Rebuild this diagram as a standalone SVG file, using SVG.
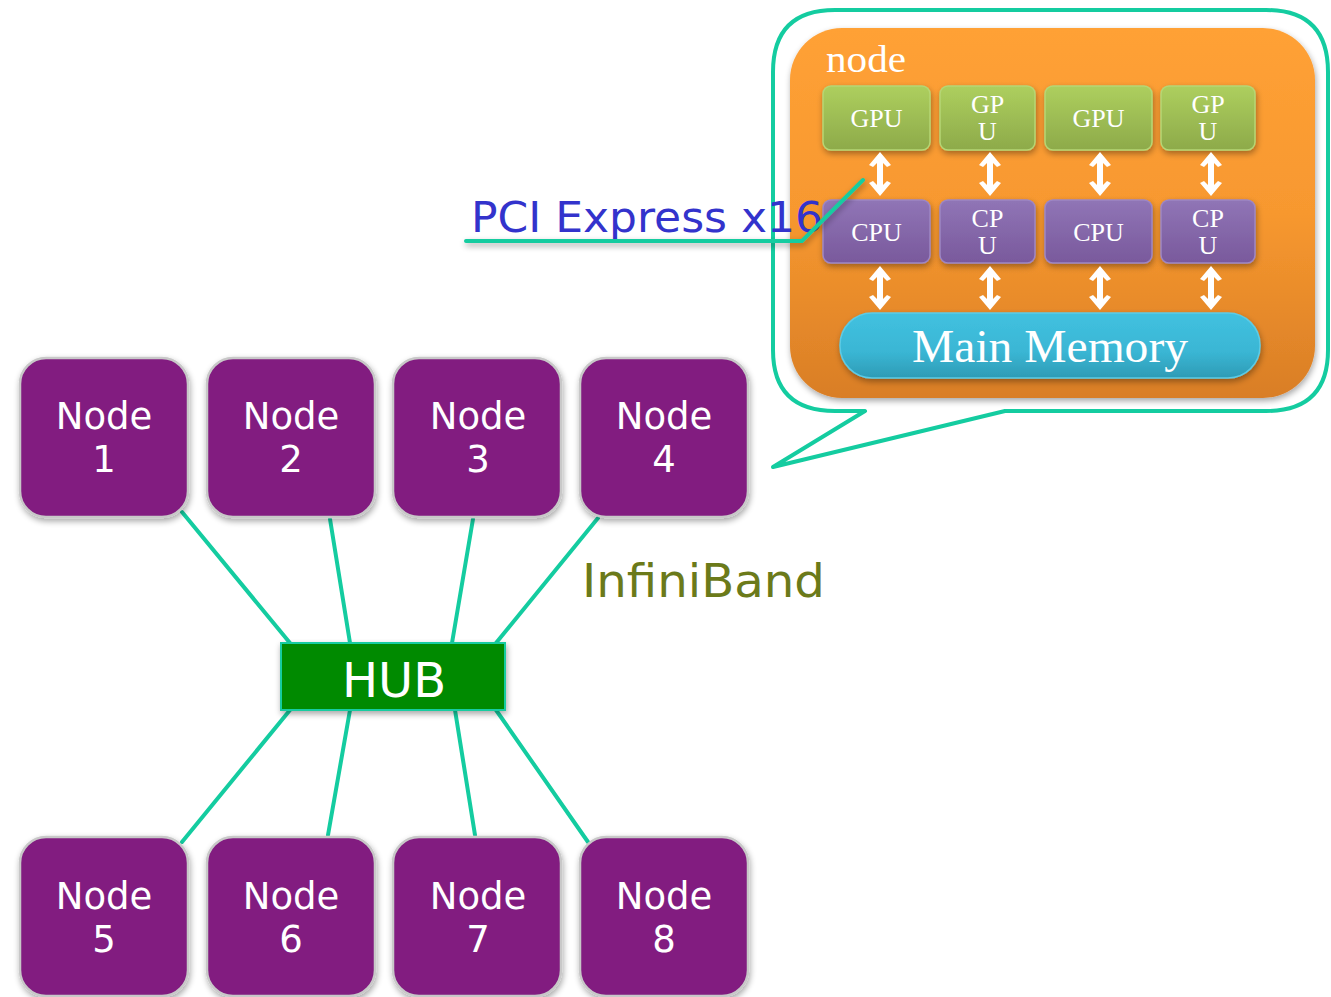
<svg xmlns="http://www.w3.org/2000/svg" width="1331" height="997" viewBox="0 0 1331 997">
  <defs>
    <style>
      .conn { stroke: #14CCA0; stroke-width: 4; fill: none; stroke-linecap: round; }
      .nodebox { fill: #821C80; stroke: #C8C8C8; stroke-width: 2.5; }
      .nodetxt { font-family: "DejaVu Sans", sans-serif; font-size: 37px; fill: #FFFFFF; text-anchor: middle; }
      .chip { font-family: "Liberation Serif", "DejaVu Serif", serif; font-size: 26px; fill: #FFFFFF; text-anchor: middle; }
      .gpu { fill: url(#gpuGrad); stroke: #B5D675; stroke-width: 1.5; }
      .cpu { fill: url(#cpuGrad); stroke: #9D86C4; stroke-width: 1.5; }
    </style>
    <linearGradient id="orangeGrad" x1="0" y1="0" x2="0" y2="1">
      <stop offset="0" stop-color="#FFA136"/>
      <stop offset="0.5" stop-color="#F7982F"/>
      <stop offset="1" stop-color="#D97E26"/>
    </linearGradient>
    <linearGradient id="gpuGrad" x1="0" y1="0" x2="0" y2="1">
      <stop offset="0" stop-color="#ADCF5E"/>
      <stop offset="1" stop-color="#8DAA4A"/>
    </linearGradient>
    <linearGradient id="cpuGrad" x1="0" y1="0" x2="0" y2="1">
      <stop offset="0" stop-color="#9075B6"/>
      <stop offset="1" stop-color="#79599C"/>
    </linearGradient>
    <linearGradient id="memGrad" x1="0" y1="0" x2="0" y2="1">
      <stop offset="0" stop-color="#41C1E0"/>
      <stop offset="0.6" stop-color="#3AB6D4"/>
      <stop offset="1" stop-color="#2E9BB5"/>
    </linearGradient>
    <linearGradient id="purpleGrad" x1="0" y1="0" x2="0" y2="1">
      <stop offset="0" stop-color="#A83AA8"/>
      <stop offset="0.06" stop-color="#821C80"/>
      <stop offset="1" stop-color="#821C80"/>
    </linearGradient>
    <filter id="shadow" x="-10%" y="-10%" width="125%" height="130%">
      <feGaussianBlur in="SourceAlpha" stdDeviation="3"/>
      <feOffset dx="1" dy="3" result="b"/>
      <feComponentTransfer><feFuncA type="linear" slope="0.35"/></feComponentTransfer>
      <feMerge><feMergeNode/><feMergeNode in="SourceGraphic"/></feMerge>
    </filter>
    <!-- white double-headed arrow, centred on the origin -->
    <path id="dblArrow" d="M0,-22 L11,-9 L7,-7 L3,-11 L3,11 L7,7 L11,9 L0,22 L-11,9 L-7,7 L-3,11 L-3,-11 L-7,-7 L-11,-9 Z" fill="#FFFFFF"/>
  </defs>

  <rect width="1331" height="997" fill="#FFFFFF"/>

  <!-- callout bubble with node internals -->
  <g id="callout">
    <path class="conn" stroke-linejoin="round" d="M835,10 L1266,10 Q1328,10 1328,72 L1328,350 Q1328,411 1266,411 L1005,411 L773,467 L865,411 L835,411 Q773,411 773,350 L773,72 Q773,10 835,10 Z"/>
    <rect x="790" y="28" width="525" height="370" rx="52" fill="url(#orangeGrad)" filter="url(#shadow)"/>
    <text x="826" y="72" font-family="Liberation Serif, DejaVu Serif, serif" font-size="37" fill="#FFFFFF" textLength="80" lengthAdjust="spacingAndGlyphs">node</text>
  </g>

  <g id="gpu1"><rect class="gpu" x="823" y="86" width="107" height="64" rx="8" filter="url(#shadow)"/><text class="chip" x="876.5" y="127">GPU</text></g>
  <g id="gpu2"><rect class="gpu" x="940" y="86" width="95" height="64" rx="8" filter="url(#shadow)"/><text class="chip" x="987.5" y="113">GP</text><text class="chip" x="987.5" y="140">U</text></g>
  <g id="gpu3"><rect class="gpu" x="1045" y="86" width="107" height="64" rx="8" filter="url(#shadow)"/><text class="chip" x="1098.5" y="127">GPU</text></g>
  <g id="gpu4"><rect class="gpu" x="1161" y="86" width="94" height="64" rx="8" filter="url(#shadow)"/><text class="chip" x="1208" y="113">GP</text><text class="chip" x="1208" y="140">U</text></g>

  <g id="cpu1"><rect class="cpu" x="823" y="200" width="107" height="63" rx="8" filter="url(#shadow)"/><text class="chip" x="876.5" y="241">CPU</text></g>
  <g id="cpu2"><rect class="cpu" x="940" y="200" width="95" height="63" rx="8" filter="url(#shadow)"/><text class="chip" x="987.5" y="227">CP</text><text class="chip" x="987.5" y="254">U</text></g>
  <g id="cpu3"><rect class="cpu" x="1045" y="200" width="107" height="63" rx="8" filter="url(#shadow)"/><text class="chip" x="1098.5" y="241">CPU</text></g>
  <g id="cpu4"><rect class="cpu" x="1161" y="200" width="94" height="63" rx="8" filter="url(#shadow)"/><text class="chip" x="1208" y="227">CP</text><text class="chip" x="1208" y="254">U</text></g>

  <g id="memory">
    <rect x="840" y="313" width="420" height="65" rx="32" fill="url(#memGrad)" stroke="#5CCBE6" stroke-width="1.5" filter="url(#shadow)"/>
    <text x="1050" y="362" font-family="Liberation Serif, DejaVu Serif, serif" font-size="46" fill="#FFFFFF" text-anchor="middle" textLength="276" lengthAdjust="spacingAndGlyphs">Main Memory</text>
  </g>

  <g id="bus-arrows">
    <use href="#dblArrow" x="880" y="174"/>
    <use href="#dblArrow" x="990" y="174"/>
    <use href="#dblArrow" x="1100" y="174"/>
    <use href="#dblArrow" x="1211" y="174"/>
    <use href="#dblArrow" x="880" y="288"/>
    <use href="#dblArrow" x="990" y="288"/>
    <use href="#dblArrow" x="1100" y="288"/>
    <use href="#dblArrow" x="1211" y="288"/>
  </g>

  <!-- PCI Express label with leader line -->
  <g id="pci-label">
    <text x="471" y="232" font-family="DejaVu Sans, sans-serif" font-size="42" fill="#3333CC" textLength="352" lengthAdjust="spacingAndGlyphs">PCI Express x16</text>
    <path class="conn" d="M466,241 L802,241 L863,180" filter="url(#shadow)"/>
  </g>

  <g id="connectors">
    <line class="conn" x1="182" y1="512" x2="290" y2="643"/>
    <line class="conn" x1="330" y1="519" x2="350" y2="643"/>
    <line class="conn" x1="473" y1="519" x2="452" y2="643"/>
    <line class="conn" x1="598" y1="518" x2="496" y2="643"/>
    <line class="conn" x1="290" y1="710" x2="182" y2="842"/>
    <line class="conn" x1="350" y1="710" x2="328" y2="835"/>
    <line class="conn" x1="455" y1="710" x2="475" y2="835"/>
    <line class="conn" x1="496" y1="710" x2="588" y2="842"/>
  </g>

  <g id="hub">
    <rect x="281" y="643" width="224" height="67" fill="#008A00" stroke="#14CCA0" stroke-width="2" filter="url(#shadow)"/>
    <text x="394" y="697" font-family="DejaVu Sans, sans-serif" font-size="48" fill="#FFFFFF" text-anchor="middle">HUB</text>
  </g>

  <text id="infiniband" x="582" y="597" font-family="DejaVu Sans, sans-serif" font-size="47" fill="#6B7A1A" textLength="243" lengthAdjust="spacingAndGlyphs">InfiniBand</text>

  <g id="node1"><rect class="nodebox" x="20" y="358" width="168" height="159" rx="26" fill="url(#purpleGrad)" filter="url(#shadow)"/><text class="nodetxt" x="104" y="429">Node</text><text class="nodetxt" x="104" y="472">1</text></g>
  <g id="node2"><rect class="nodebox" x="207" y="358" width="168" height="159" rx="26" fill="url(#purpleGrad)" filter="url(#shadow)"/><text class="nodetxt" x="291" y="429">Node</text><text class="nodetxt" x="291" y="472">2</text></g>
  <g id="node3"><rect class="nodebox" x="393" y="358" width="168" height="159" rx="26" fill="url(#purpleGrad)" filter="url(#shadow)"/><text class="nodetxt" x="478" y="429">Node</text><text class="nodetxt" x="478" y="472">3</text></g>
  <g id="node4"><rect class="nodebox" x="580" y="358" width="168" height="159" rx="26" fill="url(#purpleGrad)" filter="url(#shadow)"/><text class="nodetxt" x="664" y="429">Node</text><text class="nodetxt" x="664" y="472">4</text></g>
  <g id="node5"><rect class="nodebox" x="20" y="837" width="168" height="159" rx="26" fill="url(#purpleGrad)" filter="url(#shadow)"/><text class="nodetxt" x="104" y="909">Node</text><text class="nodetxt" x="104" y="952">5</text></g>
  <g id="node6"><rect class="nodebox" x="207" y="837" width="168" height="159" rx="26" fill="url(#purpleGrad)" filter="url(#shadow)"/><text class="nodetxt" x="291" y="909">Node</text><text class="nodetxt" x="291" y="952">6</text></g>
  <g id="node7"><rect class="nodebox" x="393" y="837" width="168" height="159" rx="26" fill="url(#purpleGrad)" filter="url(#shadow)"/><text class="nodetxt" x="478" y="909">Node</text><text class="nodetxt" x="478" y="952">7</text></g>
  <g id="node8"><rect class="nodebox" x="580" y="837" width="168" height="159" rx="26" fill="url(#purpleGrad)" filter="url(#shadow)"/><text class="nodetxt" x="664" y="909">Node</text><text class="nodetxt" x="664" y="952">8</text></g>
</svg>
